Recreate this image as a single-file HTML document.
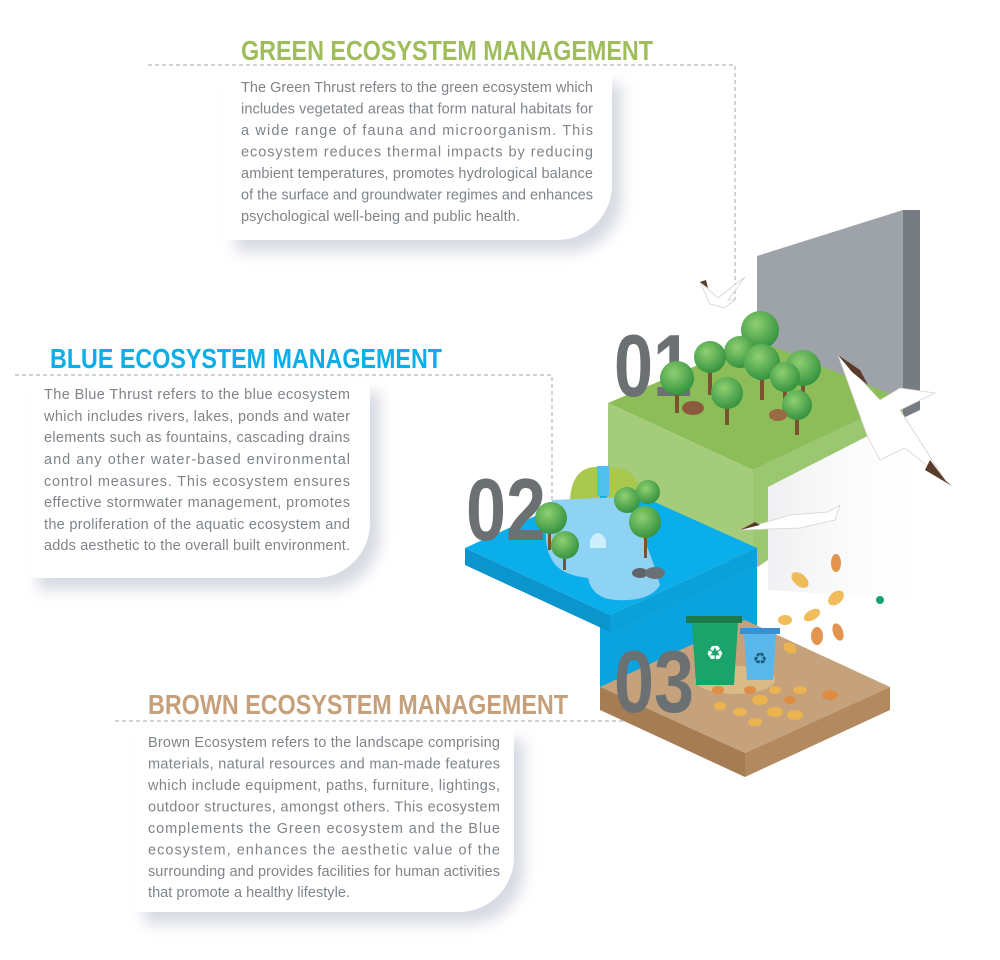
<!DOCTYPE html>
<html><head><meta charset="utf-8"><style>
html,body{margin:0;padding:0;background:#fff;}
body{width:1000px;height:960px;position:relative;overflow:hidden;}
.card{position:absolute;background:#fff;border-bottom-right-radius:55px;box-shadow:10px 12px 14px rgba(140,150,175,0.35);}
svg{position:absolute;left:0;top:0;}
</style></head><body>
<div class="card" style="left:226px;top:72px;width:386px;height:168px;"></div>
<div class="card" style="left:28px;top:380px;width:342px;height:198px;"></div>
<div class="card" style="left:134px;top:728px;width:380px;height:184px;"></div>
<svg width="1000" height="960" viewBox="0 0 1000 960" font-family="Liberation Sans, sans-serif">
<defs>
<radialGradient id="tr" cx="0.4" cy="0.35" r="0.7"><stop offset="0" stop-color="#8fd071"/><stop offset="1" stop-color="#2f8f3c"/></radialGradient>
<linearGradient id="sh" x1="0" x2="1"><stop offset="0" stop-color="#e4e5e8"/><stop offset="1" stop-color="#fff" stop-opacity="0"/></linearGradient>
</defs>
<g stroke="#b5b8bd" stroke-width="1.2" stroke-dasharray="4,3" fill="none">
<path d="M148 65 H735 V300"/>
<path d="M15 375 H552 V500"/>
<path d="M115 721 H697 V600"/>
</g>
<g font-weight="bold" font-size="28">
<text x="241" y="60" textLength="412" lengthAdjust="spacingAndGlyphs" fill="#9fbd5b">GREEN ECOSYSTEM MANAGEMENT</text>
<text x="50" y="368" textLength="392" lengthAdjust="spacingAndGlyphs" fill="#0aaee8">BLUE ECOSYSTEM MANAGEMENT</text>
<text x="148" y="714" textLength="420" lengthAdjust="spacingAndGlyphs" fill="#c6a07a">BROWN ECOSYSTEM MANAGEMENT</text>
</g>
<g font-size="14.5" fill="#7f8489">
<text x="241" y="92" textLength="352" lengthAdjust="spacing">The Green Thrust refers to the green ecosystem which</text>
<text x="241" y="113.5" textLength="352" lengthAdjust="spacing">includes vegetated areas that form natural habitats for</text>
<text x="241" y="135" textLength="352" lengthAdjust="spacing">a wide range of fauna and microorganism. This</text>
<text x="241" y="156.5" textLength="352" lengthAdjust="spacing">ecosystem reduces thermal impacts by reducing</text>
<text x="241" y="178" textLength="352" lengthAdjust="spacing">ambient temperatures, promotes hydrological balance</text>
<text x="241" y="199.5" textLength="352" lengthAdjust="spacing">of the surface and groundwater regimes and enhances</text>
<text x="241" y="221" textLength="279" lengthAdjust="spacing">psychological well-being and public health.</text>

<text x="44" y="399" textLength="306" lengthAdjust="spacing">The Blue Thrust refers to the blue ecosystem</text>
<text x="44" y="421" textLength="306" lengthAdjust="spacing">which includes rivers, lakes, ponds and water</text>
<text x="44" y="442" textLength="306" lengthAdjust="spacing">elements such as fountains, cascading drains</text>
<text x="44" y="464" textLength="306" lengthAdjust="spacing">and any other water-based environmental</text>
<text x="44" y="486" textLength="306" lengthAdjust="spacing">control measures. This ecosystem ensures</text>
<text x="44" y="507" textLength="306" lengthAdjust="spacing">effective stormwater management, promotes</text>
<text x="44" y="529" textLength="306" lengthAdjust="spacing">the proliferation of the aquatic ecosystem and</text>
<text x="44" y="550" textLength="306" lengthAdjust="spacing">adds aesthetic to the overall built environment.</text>

<text x="148" y="747" textLength="352" lengthAdjust="spacing">Brown Ecosystem refers to the landscape comprising</text>
<text x="148" y="768.5" textLength="352" lengthAdjust="spacing">materials, natural resources and man-made features</text>
<text x="148" y="790" textLength="352" lengthAdjust="spacing">which include equipment, paths, furniture, lightings,</text>
<text x="148" y="811.5" textLength="352" lengthAdjust="spacing">outdoor structures, amongst others. This ecosystem</text>
<text x="148" y="833" textLength="352" lengthAdjust="spacing">complements the Green ecosystem and the Blue</text>
<text x="148" y="854.5" textLength="352" lengthAdjust="spacing">ecosystem, enhances the aesthetic value of the</text>
<text x="148" y="876" textLength="352" lengthAdjust="spacing">surrounding and provides facilities for human activities</text>
<text x="148" y="897" textLength="202" lengthAdjust="spacing">that promote a healthy lifestyle.</text>
</g>

<polygon points="768,487 903,420 940,440 930,600 768,590" fill="url(#sh)" opacity="0.6"/>
<polygon points="757,256 903,210 903,420 757,420" fill="#9ea3aa"/>
<polygon points="903,210 920,210 920,410 903,418" fill="#777c83"/>
<polygon points="608,403 757,340 903,399 753,470" fill="#8dbd58"/>
<polygon points="608,403 753,470 753,570 608,520" fill="#a5cc7a"/>
<polygon points="753,470 903,399 903,418 768,487 768,560 753,570" fill="#9cc771"/>
<polygon points="600,622 757,548 757,650 600,705" fill="#0ba3dd"/>
<polygon points="465,548 610,482 757,548 610,615" fill="#0aaeea"/>
<polygon points="465,548 610,615 610,632 465,565" fill="#0a95cc"/>
<polygon points="610,615 757,548 757,565 610,632" fill="#0aa0da"/>
<path d="M570 500 Q572 465 600 467 L600 500Z" fill="#a8c94e"/>
<path d="M607 500 L607 467 Q640 465 640 500Z" fill="#a8c94e"/>
<rect x="597" y="466" width="12" height="30" fill="#4fc0ee"/>
<path d="M552 500 L622 497 Q648 540 660 585 Q650 602 615 600 Q592 598 588 578 Q560 575 552 560 Q540 540 552 500Z" fill="#8fd3f4"/>
<path d="M590 540 q8 -14 16 0 v8 h-16z" fill="#cdeefc"/>
<ellipse cx="640" cy="573" rx="8" ry="5" fill="#5f6468"/><ellipse cx="655" cy="573" rx="10" ry="6" fill="#6b7074"/>
<polygon points="600,687 745,620 890,687 745,753" fill="#c5a27b"/>
<polygon points="600,687 745,753 745,777 600,710" fill="#a67c52"/>
<polygon points="745,753 890,687 890,710 745,777" fill="#b38a5f"/>
<ellipse cx="735" cy="680" rx="40" ry="14" fill="#e2c48b" opacity="0.7"/>
<g font-weight="bold" font-size="88" fill="#6b7073">
<text x="614" y="396" textLength="78" lengthAdjust="spacingAndGlyphs">01</text>
<text x="466" y="540" textLength="80" lengthAdjust="spacingAndGlyphs">02</text>
<text x="614" y="712" textLength="80" lengthAdjust="spacingAndGlyphs">03</text>
</g>
<g fill="#7a5230">
<rect x="758" y="340" width="4" height="40"/><rect x="708" y="365" width="4" height="30"/><rect x="675" y="385" width="4" height="28"/>
<rect x="760" y="370" width="4" height="30"/><rect x="801" y="375" width="4" height="28"/><rect x="725" y="400" width="4" height="25"/>
<rect x="795" y="410" width="4" height="25"/><rect x="783" y="385" width="4" height="25"/>
</g>
<g fill="url(#tr)">
<circle cx="760" cy="330" r="19"/><circle cx="740" cy="352" r="16"/><circle cx="710" cy="357" r="16"/>
<circle cx="762" cy="362" r="18"/><circle cx="803" cy="368" r="18"/><circle cx="785" cy="377" r="15"/>
<circle cx="677" cy="378" r="17"/><circle cx="727" cy="393" r="16"/><circle cx="797" cy="405" r="15"/>
</g>
<ellipse cx="693" cy="408" rx="11" ry="7" fill="#8a5a3a"/><ellipse cx="778" cy="415" rx="9" ry="6" fill="#9a6a44"/>
<g fill="#7a5230"><rect x="548" y="525" width="3" height="25"/><rect x="563" y="550" width="3" height="20"/><rect x="644" y="530" width="3" height="28"/></g>
<g fill="url(#tr)">
<circle cx="551" cy="518" r="16"/><circle cx="565" cy="545" r="14"/><circle cx="627" cy="500" r="13"/>
<circle cx="645" cy="522" r="16"/><circle cx="648" cy="492" r="12"/>
</g>
<rect x="686" y="616" width="56" height="7" fill="#1a7a4a"/>
<path d="M692 623 H738 L734 685 H696Z" fill="#1aa46c"/>
<text x="715" y="660" font-size="20" fill="#fff" text-anchor="middle">♻</text>
<rect x="740" y="628" width="40" height="6" fill="#3a8fd0"/>
<path d="M744 634 H776 L773 680 H747Z" fill="#5ab7ea"/>
<text x="760" y="664" font-size="16" fill="#1b5a7a" text-anchor="middle">♻</text>
<g fill="#f0b64a" opacity="0.9">
<ellipse cx="800" cy="580" rx="10" ry="6" transform="rotate(40 800 580)"/>
<ellipse cx="836" cy="598" rx="9" ry="6" transform="rotate(-40 836 598)"/>
<ellipse cx="812" cy="615" rx="9" ry="5" transform="rotate(-30 812 615)"/>
<ellipse cx="785" cy="620" rx="7" ry="5"/>
<ellipse cx="790" cy="648" rx="7" ry="5" transform="rotate(30 790 648)"/>
<ellipse cx="760" cy="700" rx="8" ry="5"/><ellipse cx="775" cy="712" rx="8" ry="5"/>
<ellipse cx="740" cy="712" rx="7" ry="4"/><ellipse cx="795" cy="715" rx="8" ry="5"/>
<ellipse cx="720" cy="706" rx="6" ry="4"/><ellipse cx="755" cy="722" rx="7" ry="4"/>
<ellipse cx="800" cy="690" rx="7" ry="4"/><ellipse cx="775" cy="690" rx="6" ry="4"/>
</g>
<g fill="#e08a3c" opacity="0.9">
<ellipse cx="836" cy="563" rx="5" ry="9"/><ellipse cx="817" cy="636" rx="6" ry="9"/>
<ellipse cx="838" cy="632" rx="5" ry="9" transform="rotate(-20 838 632)"/>
<ellipse cx="830" cy="695" rx="8" ry="5"/><ellipse cx="718" cy="690" rx="6" ry="4"/>
<ellipse cx="790" cy="700" rx="6" ry="4"/><ellipse cx="750" cy="690" rx="6" ry="4"/>
</g>
<circle cx="880" cy="600" r="4" fill="#13a37a"/>
<g fill="#fff" stroke="#d8d2cc" stroke-width="0.8">
<path d="M700 282 L718 298 L745 277 L728 300 L735 300 L724 308 L710 304Z"/>
<path d="M838 355 L880 400 L900 388 L935 393 L900 410 L945 480 L905 448 L880 460 L868 438Z"/>
<path d="M740 530 L790 515 L828 512 L840 505 L835 520 L800 528Z"/>
</g>
<g fill="#5a3a28">
<path d="M838 355 L860 370 L868 385 L852 372Z"/><path d="M930 460 L945 480 L952 486 L925 470Z"/>
<path d="M700 282 L708 288 L706 280Z"/><path d="M740 530 L755 522 L760 525Z"/>
</g>
</svg>
</body></html>
